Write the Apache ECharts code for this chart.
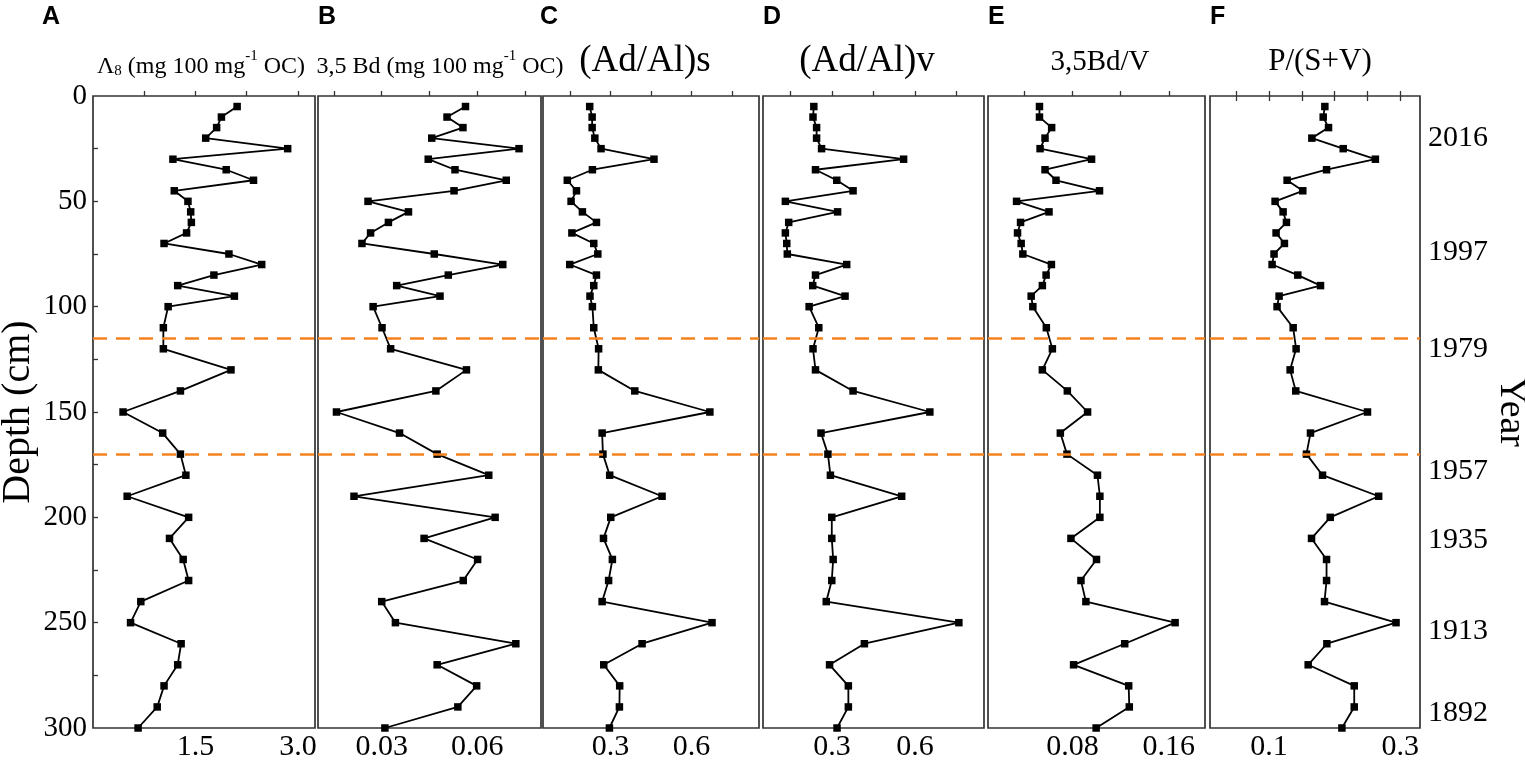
<!DOCTYPE html>
<html>
<head>
<meta charset="utf-8">
<title>Lignin proxies vs depth</title>
<script src="https://cdn.jsdelivr.net/npm/echarts@6.0.0/dist/echarts.min.js"></script>
<style>html,body{margin:0;padding:0;background:#fff}#chart{width:1525px;height:766px}</style>
</head>
<body>
<div id="chart"></div>
<script>
// ---- data ----
const depth = [5, 10, 15, 20, 25, 30, 35, 40, 45, 50, 55, 60, 65, 70, 75, 80, 85, 90, 95, 100,
  110, 120, 130, 140, 150, 160, 170, 180, 190, 200, 210, 220, 230, 240, 250, 260, 270, 280, 290, 300];

const lambda8 = [2.11, 1.88, 1.81, 1.65, 2.85, 1.17, 1.95, 2.35, 1.19, 1.39, 1.43, 1.44, 1.37, 1.04, 1.99, 2.47, 1.77, 1.24, 2.07, 1.10,
  1.03, 1.03, 2.02, 1.28, 0.44, 1.02, 1.28, 1.36, 0.50, 1.40, 1.12, 1.32, 1.40, 0.70, 0.55, 1.29, 1.24, 1.04, 0.94, 0.66];
const bd35 = [0.0563, 0.0505, 0.0555, 0.0457, 0.0731, 0.0446, 0.0530, 0.0691, 0.0527, 0.0257, 0.0384, 0.0321, 0.0265, 0.0238, 0.0465, 0.0680, 0.0509, 0.0347, 0.0483, 0.0273,
  0.0301, 0.0328, 0.0566, 0.0470, 0.0158, 0.0356, 0.0474, 0.0636, 0.0213, 0.0656, 0.0433, 0.0601, 0.0556, 0.0300, 0.0343, 0.0721, 0.0474, 0.0598, 0.0539, 0.0310];
const adAlS = [0.223, 0.232, 0.232, 0.242, 0.265, 0.461, 0.233, 0.140, 0.174, 0.154, 0.196, 0.248, 0.157, 0.238, 0.253, 0.149, 0.248, 0.238, 0.224, 0.233,
  0.238, 0.256, 0.255, 0.390, 0.668, 0.269, 0.272, 0.297, 0.491, 0.301, 0.274, 0.307, 0.293, 0.269, 0.676, 0.417, 0.275, 0.334, 0.333, 0.296];
const adAlV = [0.234, 0.231, 0.244, 0.244, 0.262, 0.559, 0.240, 0.317, 0.376, 0.131, 0.320, 0.143, 0.131, 0.136, 0.138, 0.353, 0.240, 0.230, 0.347, 0.217,
  0.252, 0.231, 0.240, 0.376, 0.654, 0.260, 0.285, 0.294, 0.552, 0.299, 0.299, 0.304, 0.299, 0.279, 0.759, 0.417, 0.291, 0.359, 0.359, 0.318];
const bdV = [0.0527, 0.0527, 0.0628, 0.0573, 0.0532, 0.0959, 0.0573, 0.0664, 0.1025, 0.0337, 0.0606, 0.0370, 0.0345, 0.0375, 0.0389, 0.0626, 0.0582, 0.0551, 0.0458, 0.0472,
  0.0584, 0.0634, 0.0551, 0.0758, 0.0926, 0.0700, 0.0755, 0.1008, 0.1028, 0.1028, 0.0788, 0.1000, 0.0871, 0.0912, 0.1652, 0.1234, 0.0810, 0.1267, 0.1272, 0.0997];
const pSV = [0.185, 0.1825, 0.1906, 0.1652, 0.213, 0.262, 0.1876, 0.1275, 0.1514, 0.1092, 0.1214, 0.1265, 0.1107, 0.1234, 0.1076, 0.1046, 0.1438, 0.1784, 0.1153, 0.1122,
  0.1367, 0.1412, 0.1321, 0.1407, 0.250, 0.1631, 0.157, 0.1815, 0.267, 0.1932, 0.1647, 0.1876, 0.1876, 0.1845, 0.2935, 0.1881, 0.1596, 0.2298, 0.2298, 0.211];

// ticks / labels
const depthTicks = [25, 50, 75, 100, 125, 150, 175, 200, 225, 250, 275];
const depthLabels = [0, 50, 100, 150, 200, 250, 300];
const yearDepths = [20, 74, 120, 178, 211, 254, 293];
const yearLabels = ['2016', '1997', '1979', '1957', '1935', '1913', '1892'];
const boundaryDepths = [115, 170];

const ticksA = [0.75, 1.5, 2.25, 3.0],               labelsA = [1.5, 3.0];
const ticksB = [0.015, 0.03, 0.045, 0.06, 0.075],    labelsB = [0.03, 0.06];
const ticksC = [0.15, 0.3, 0.45, 0.6, 0.75],         labelsC = [0.3, 0.6];
const ticksE = [0.04, 0.08, 0.12, 0.16],             labelsE = [0.08, 0.16];
const ticksF = [0.05, 0.1, 0.15, 0.2, 0.25, 0.3],    labelsF = [0.1, 0.3];

// ---- panels ----
const SERIF = '"Liberation Serif","Times New Roman",serif';
const TOP = 96, BOTTOM = 728;

const panels = [
  { letter: 'A', values: lambda8, min: 0,    max: 3.25, ticks: ticksA, labels: labelsA, digits: 1, left: 93,   right: 315 },
  { letter: 'B', values: bd35,    min: 0.01, max: 0.08, ticks: ticksB, labels: labelsB, digits: 2, left: 318,  right: 541 },
  { letter: 'C', values: adAlS,   min: 0.05, max: 0.85, ticks: ticksC, labels: labelsC, digits: 1, left: 543,  right: 759 },
  { letter: 'D', values: adAlV,   min: 0.05, max: 0.85, ticks: ticksC, labels: labelsC, digits: 1, left: 763,  right: 984 },
  { letter: 'E', values: bdV,     min: 0.01, max: 0.19, ticks: ticksE, labels: labelsE, digits: 2, left: 988,  right: 1205 },
  { letter: 'F', values: pSV,     min: 0.01, max: 0.33, ticks: ticksF, labels: labelsF, digits: 1, left: 1210, right: 1420 },
];

const tickStyle = { color: '#333', width: 1.3 };

const grid = panels.map((p) => ({
  left: p.left, top: TOP, width: p.right - p.left, height: BOTTOM - TOP,
  show: true, borderColor: '#333', borderWidth: 1.7, backgroundColor: 'transparent',
  containLabel: false, outerBoundsMode: 'none',
}));

const xAxis = panels.map((p, i) => ({
  type: 'value', gridIndex: i, position: 'bottom', min: p.min, max: p.max,
  axisLine: { show: false }, splitLine: { show: false },
  axisTick: { inside: true, length: 5, customValues: p.ticks, lineStyle: tickStyle },
  axisLabel: {
    customValues: p.labels, formatter: (v) => Number(v).toFixed(p.digits),
    fontFamily: SERIF, fontSize: 30, color: '#000', margin: 4,
  },
}));
// mirrored ticks on top of the last panel
xAxis.push({
  type: 'value', gridIndex: 5, position: 'top', min: panels[5].min, max: panels[5].max,
  axisLine: { show: false }, splitLine: { show: false },
  axisTick: { inside: true, length: 5, customValues: ticksF, lineStyle: tickStyle },
  axisLabel: { show: false },
});

const yAxis = panels.map((p, i) => {
  const ax = {
    type: 'value', gridIndex: i, inverse: true, min: 0, max: 300,
    axisLine: { show: false }, splitLine: { show: false },
    axisTick: { show: false }, axisLabel: { show: false },
  };
  if (i === 0) {
    ax.axisTick = { show: true, inside: true, length: 5, customValues: depthTicks, lineStyle: tickStyle };
    ax.axisLabel = { show: true, customValues: depthLabels, fontFamily: SERIF, fontSize: 29, color: '#000', margin: 6 };
    ax.name = 'Depth (cm)';
    ax.nameLocation = 'middle';
    ax.nameRotate = 90;
    ax.nameGap = 55;
    ax.nameTextStyle = { fontFamily: SERIF, fontSize: 40, color: '#000' };
  }
  if (i === 5) {
    ax.position = 'right';
    ax.axisLabel = {
      show: true, customValues: yearDepths,
      formatter: (v) => yearLabels[yearDepths.indexOf(Number(v))],
      fontFamily: SERIF, fontSize: 30, color: '#000', margin: 8,
    };
    ax.name = 'Year';
    ax.nameLocation = 'middle';
    ax.nameRotate = -90;
    ax.nameGap = 62;
    ax.nameTextStyle = { fontFamily: SERIF, fontSize: 38, color: '#000' };
  }
  return ax;
});

const series = panels.map((p, i) => ({
  type: 'line', xAxisIndex: i, yAxisIndex: i,
  data: p.values.map((v, k) => [v, depth[k]]),
  symbol: 'rect', symbolSize: 7.5,
  itemStyle: { color: '#000' },
  lineStyle: { color: '#000', width: 1.8 },
  z: 3,
  markLine: {
    silent: true, symbol: ['none', 'none'], label: { show: false },
    lineStyle: { color: '#F5821F', width: 2.5, type: [14, 9] },
    data: boundaryDepths.map((d) => ({ yAxis: d })),
  },
}));

// ---- panel letters and titles ----
const titleRich = {
  n: { fontFamily: SERIF, fontSize: 24, lineHeight: 30, verticalAlign: 'bottom' },
  sup: { fontFamily: SERIF, fontSize: 15, lineHeight: 30, verticalAlign: 'top' },
  sub: { fontFamily: SERIF, fontSize: 15, lineHeight: 21, verticalAlign: 'bottom' },
};
const titles = [
  { x: 201,  y: 64, text: '{n|Λ}{sub|8}{n| (mg 100 mg}{sup|-1}{n| OC)}', rich: true },
  { x: 440,  y: 64, text: '{n|3,5 Bd (mg 100 mg}{sup|-1}{n| OC)}', rich: true },
  { x: 645,  y: 61, text: '(Ad/Al)s', size: 37 },
  { x: 867,  y: 61, text: '(Ad/Al)v', size: 37 },
  { x: 1100, y: 62, text: '3,5Bd/V', size: 29 },
  { x: 1320, y: 62, text: 'P/(S+V)', size: 31 },
];
const letterX = [42, 318, 540, 763, 988, 1210];

const graphic = [];
panels.forEach((p, i) => {
  graphic.push({
    type: 'text', x: letterX[i], y: 17,
    style: { text: p.letter, font: 'bold 25px "Liberation Sans", Arial, sans-serif', fill: '#000', align: 'left', verticalAlign: 'middle' },
  });
});
titles.forEach((t) => {
  const style = { text: t.text, fill: '#000', align: 'center', verticalAlign: 'middle' };
  if (t.rich) style.rich = titleRich;
  else style.font = t.size + 'px ' + SERIF;
  graphic.push({ type: 'text', x: t.x, y: t.y, style });
});

const chart = echarts.init(document.getElementById('chart'), null, { renderer: 'canvas' });
chart.setOption({
  animation: false,
  backgroundColor: '#fff',
  grid, xAxis, yAxis, series, graphic,
});
</script>
</body>
</html>
